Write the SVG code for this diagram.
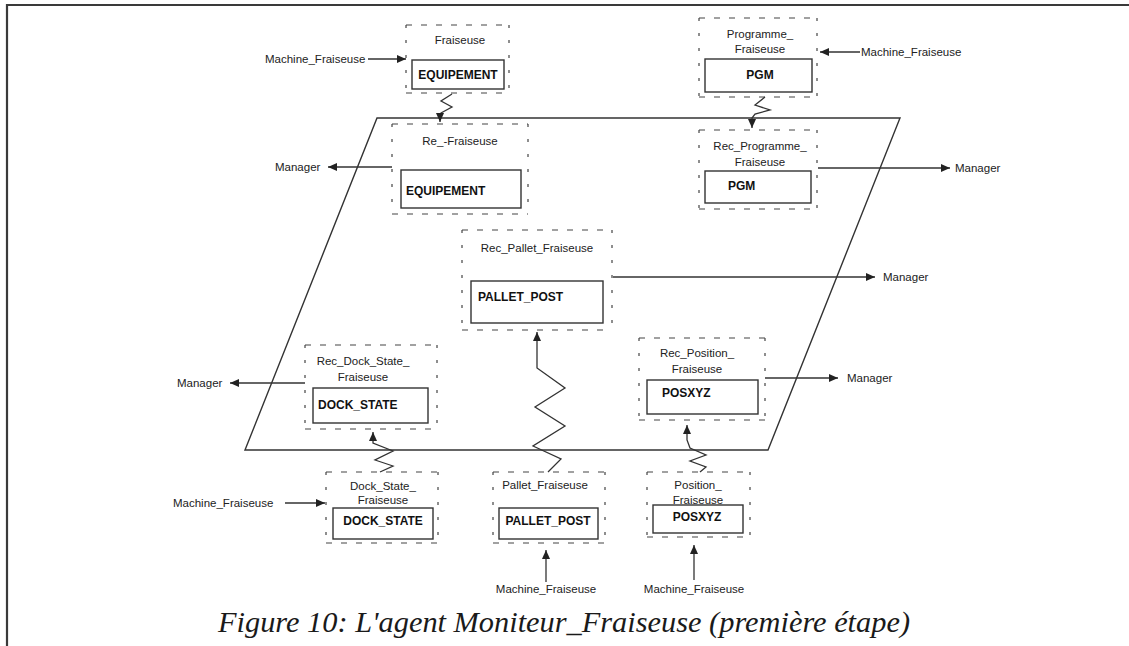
<svg xmlns="http://www.w3.org/2000/svg" width="1129" height="646" viewBox="0 0 1129 646">
  <style>
    .frame { fill: none; stroke: #3a3a3a; stroke-width: 2.2; }
    .plane { fill: none; stroke: #333; stroke-width: 1.4; }
    .dh { fill: none; stroke: #444; stroke-width: 1.2; stroke-dasharray: 6 9; }
    .dv { fill: none; stroke: #444; stroke-width: 1.2; stroke-dasharray: 3 12; }
    .box { fill: none; stroke: #333; stroke-width: 1.4; }
    .wire { fill: none; stroke: #333; stroke-width: 1.3; }
    .lbl { font-family: "Liberation Sans", Arial, sans-serif; font-size: 11.5px; fill: #222; }
    .c { text-anchor: middle; }
    .val { font-family: "Liberation Sans", Arial, sans-serif; font-size: 12px; font-weight: bold; fill: #111; }
    .cap { font-family: "Liberation Serif", "Times New Roman", serif; font-style: italic; font-size: 30px; fill: #1a1a1a; }
  </style>
  <defs>
    <marker id="arr" viewBox="0 0 9 8" refX="9" refY="4" markerWidth="9" markerHeight="8" markerUnits="userSpaceOnUse" orient="auto">
      <path d="M0,0 L9,4 L0,8 z" fill="#222"/>
    </marker>
  </defs>

  <rect width="1129" height="646" fill="#ffffff"/>

  <!-- page frame -->
  <path class="frame" d="M7,646 V5 H1129"/>

  <!-- agent plane -->
  <path class="plane" d="M377,118 L900,118 L768,450 L245,450 Z"/>

  <!-- Fraiseuse -->
  <g id="n-fraiseuse">
    <path class="dh" d="M406,25 H509 M406,93 H509"/>
    <path class="dv" d="M406,25 V93 M509,25 V93"/>
    <rect class="box" x="412" y="60" width="92" height="29"/>
    <text class="lbl c" x="460" y="44">Fraiseuse</text>
    <text class="val c" x="458" y="79">EQUIPEMENT</text>
  </g>

  <!-- Re_-Fraiseuse -->
  <g id="n-rec-fraiseuse">
    <path class="dh" d="M392,124 H528 M392,214 H528"/>
    <path class="dv" d="M392,124 V214 M528,124 V214"/>
    <rect class="box" x="401" y="170" width="120" height="38"/>
    <text class="lbl c" x="460" y="145">Re_-Fraiseuse</text>
    <text class="val" x="406" y="195">EQUIPEMENT</text>
  </g>

  <!-- Programme_Fraiseuse -->
  <g id="n-programme">
    <path class="dh" d="M699,18 H817 M699,97 H817"/>
    <path class="dv" d="M699,18 V97 M817,18 V97"/>
    <rect class="box" x="705" y="59" width="107" height="33"/>
    <text class="lbl c" x="760" y="38">Programme_</text>
    <text class="lbl c" x="760" y="53">Fraiseuse</text>
    <text class="val c" x="760" y="79">PGM</text>
  </g>

  <!-- Rec_Programme_Fraiseuse -->
  <g id="n-rec-programme">
    <path class="dh" d="M699,130 H817 M699,209 H817"/>
    <path class="dv" d="M699,130 V209 M817,130 V209"/>
    <rect class="box" x="705" y="171" width="106" height="32"/>
    <text class="lbl c" x="760" y="150">Rec_Programme_</text>
    <text class="lbl c" x="760" y="166">Fraiseuse</text>
    <text class="val" x="728" y="190">PGM</text>
  </g>

  <!-- Rec_Pallet_Fraiseuse -->
  <g id="n-rec-pallet">
    <path class="dh" d="M462,230 H612 M462,330 H612"/>
    <path class="dv" d="M462,230 V330 M612,230 V330"/>
    <rect class="box" x="471" y="281" width="132" height="42"/>
    <text class="lbl c" x="537" y="252">Rec_Pallet_Fraiseuse</text>
    <text class="val" x="478" y="301">PALLET_POST</text>
  </g>

  <!-- Rec_Position_Fraiseuse -->
  <g id="n-rec-position">
    <path class="dh" d="M639,338 H765 M639,420 H765"/>
    <path class="dv" d="M639,338 V420 M765,338 V420"/>
    <rect class="box" x="647" y="380" width="111" height="34"/>
    <text class="lbl c" x="697" y="357">Rec_Position_</text>
    <text class="lbl c" x="697" y="373">Fraiseuse</text>
    <text class="val" x="662" y="397">POSXYZ</text>
  </g>

  <!-- Rec_Dock_State_Fraiseuse -->
  <g id="n-rec-dock">
    <path class="dh" d="M305,345 H437 M305,429 H437"/>
    <path class="dv" d="M305,345 V429 M437,345 V429"/>
    <rect class="box" x="313" y="388" width="115" height="35"/>
    <text class="lbl c" x="363" y="365">Rec_Dock_State_</text>
    <text class="lbl c" x="363" y="381">Fraiseuse</text>
    <text class="val" x="318" y="409">DOCK_STATE</text>
  </g>

  <!-- Dock_State_Fraiseuse -->
  <g id="n-dock">
    <path class="dh" d="M326,472 H438 M326,543 H438"/>
    <path class="dv" d="M326,472 V543 M438,472 V543"/>
    <rect class="box" x="333" y="508" width="100" height="31"/>
    <text class="lbl c" x="383" y="490">Dock_State_</text>
    <text class="lbl c" x="383" y="504">Fraiseuse</text>
    <text class="val c" x="383" y="525">DOCK_STATE</text>
  </g>

  <!-- Pallet_Fraiseuse -->
  <g id="n-pallet">
    <path class="dh" d="M493,472 H605 M493,543 H605"/>
    <path class="dv" d="M493,472 V543 M605,472 V543"/>
    <rect class="box" x="499" y="508" width="99" height="31"/>
    <text class="lbl c" x="545" y="489">Pallet_Fraiseuse</text>
    <text class="val c" x="548" y="525">PALLET_POST</text>
  </g>

  <!-- Position_Fraiseuse -->
  <g id="n-position">
    <path class="dh" d="M647,472 H750 M647,537 H750"/>
    <path class="dv" d="M647,472 V537 M750,472 V537"/>
    <rect class="box" x="653" y="505" width="90" height="28"/>
    <text class="lbl c" x="698" y="489">Position_</text>
    <text class="lbl c" x="698" y="504">Fraiseuse</text>
    <text class="val c" x="697" y="521">POSXYZ</text>
  </g>

  <!-- connectors -->
  <g id="connectors">
    <!-- inputs from Machine_Fraiseuse -->
    <line class="wire" x1="368" y1="59" x2="406" y2="59" marker-end="url(#arr)"/>
    <text class="lbl" x="265" y="63">Machine_Fraiseuse</text>

    <line class="wire" x1="860" y1="52" x2="820" y2="52" marker-end="url(#arr)"/>
    <text class="lbl" x="861" y="56">Machine_Fraiseuse</text>

    <line class="wire" x1="285" y1="503" x2="325" y2="503" marker-end="url(#arr)"/>
    <text class="lbl" x="173" y="507">Machine_Fraiseuse</text>

    <line class="wire" x1="546" y1="582" x2="546" y2="550" marker-end="url(#arr)"/>
    <text class="lbl c" x="546" y="593">Machine_Fraiseuse</text>

    <line class="wire" x1="694" y1="580" x2="694" y2="545" marker-end="url(#arr)"/>
    <text class="lbl c" x="694" y="593">Machine_Fraiseuse</text>

    <!-- outputs to Manager -->
    <line class="wire" x1="392" y1="167" x2="328" y2="167" marker-end="url(#arr)"/>
    <text class="lbl" x="275" y="171">Manager</text>

    <line class="wire" x1="818" y1="168" x2="950" y2="168" marker-end="url(#arr)"/>
    <text class="lbl" x="955" y="172">Manager</text>

    <line class="wire" x1="613" y1="277" x2="875" y2="277" marker-end="url(#arr)"/>
    <text class="lbl" x="883" y="281">Manager</text>

    <line class="wire" x1="765" y1="378" x2="838" y2="378" marker-end="url(#arr)"/>
    <text class="lbl" x="847" y="382">Manager</text>

    <line class="wire" x1="305" y1="383" x2="230" y2="383" marker-end="url(#arr)"/>
    <text class="lbl" x="177" y="387">Manager</text>

    <!-- asynchronous (zig-zag) links -->
    <polyline class="wire" points="452,94 441,101 452,107 441,113 440,114 440,122" marker-end="url(#arr)"/>
    <polyline class="wire" points="765,97 755,105 770,110 755,114 752,118 752,128" marker-end="url(#arr)"/>
    <polyline class="wire" points="548,472 561,459 533,446 565,426 535,407 565,388 537,368 537,332" marker-end="url(#arr)"/>
    <polyline class="wire" points="700,472 706,467 690,461 706,455 690,448 687,440 687,425" marker-end="url(#arr)"/>
    <polyline class="wire" points="380,472 393,466 375,460 393,451 373,443 373,432" marker-end="url(#arr)"/>
  </g>

  <!-- caption -->
  <text class="cap c" x="564" y="632" textLength="692" lengthAdjust="spacingAndGlyphs">Figure 10: L'agent Moniteur_Fraiseuse (première étape)</text>
</svg>
